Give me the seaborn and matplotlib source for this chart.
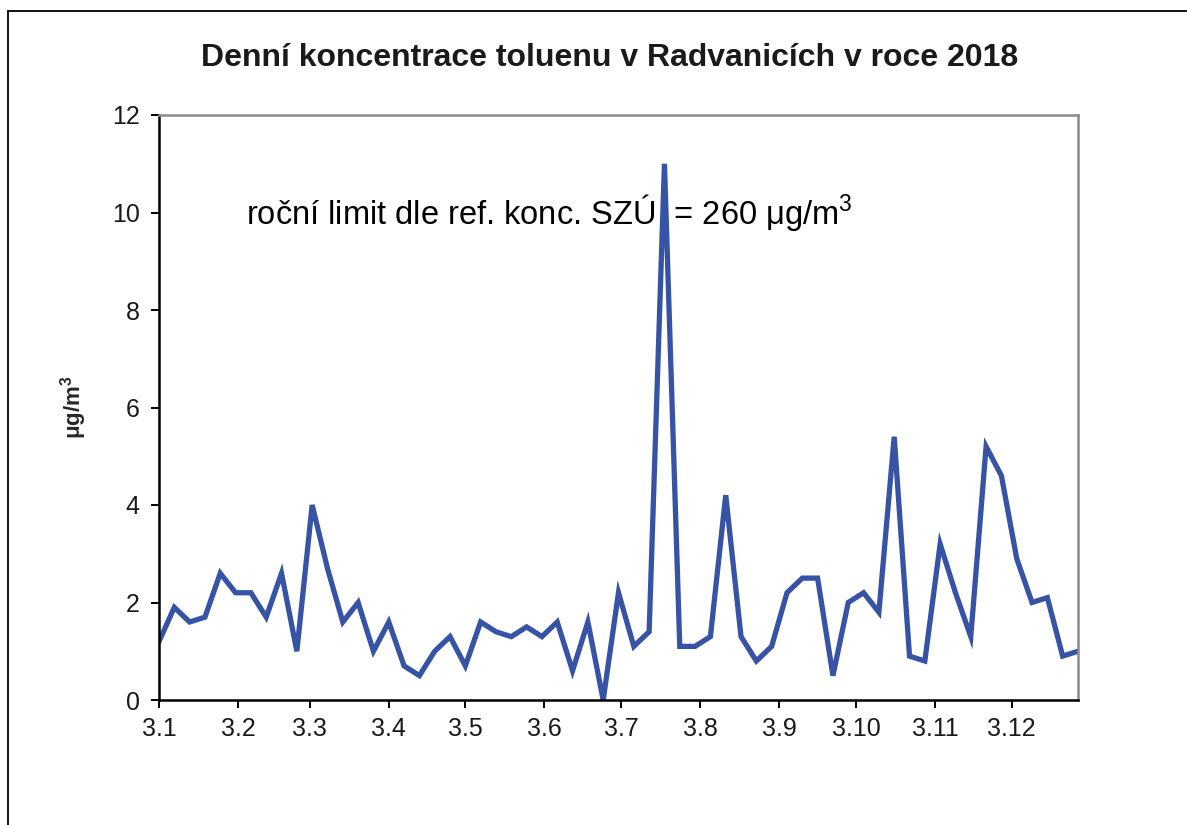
import matplotlib
matplotlib.use("Agg")
import matplotlib.pyplot as plt
from matplotlib.lines import Line2D
import seaborn as sns
import pandas as pd

# ---- data ----
sample_dates = [
    "2018-01-03", "2018-01-09", "2018-01-15", "2018-01-21", "2018-01-27",
    "2018-02-02", "2018-02-08", "2018-02-14", "2018-02-20", "2018-02-26",
    "2018-03-04", "2018-03-10", "2018-03-16", "2018-03-22", "2018-03-28",
    "2018-04-03", "2018-04-09", "2018-04-15", "2018-04-21", "2018-04-27",
    "2018-05-03", "2018-05-09", "2018-05-15", "2018-05-21", "2018-05-27",
    "2018-06-02", "2018-06-08", "2018-06-14", "2018-06-20", "2018-06-26",
    "2018-07-02", "2018-07-08", "2018-07-14", "2018-07-20", "2018-07-26",
    "2018-08-01", "2018-08-07", "2018-08-13", "2018-08-19", "2018-08-25",
    "2018-08-31", "2018-09-06", "2018-09-12", "2018-09-18", "2018-09-24",
    "2018-09-30", "2018-10-06", "2018-10-12", "2018-10-18", "2018-10-24",
    "2018-10-30", "2018-11-05", "2018-11-11", "2018-11-17", "2018-11-23",
    "2018-11-29", "2018-12-05", "2018-12-11", "2018-12-17", "2018-12-23",
    "2018-12-29",
]
toluene = [
    1.2, 1.9, 1.6, 1.7, 2.6, 2.2, 2.2, 1.7, 2.6, 1.0,
    4.0, 2.7, 1.6, 2.0, 1.0, 1.6, 0.7, 0.5, 1.0, 1.3,
    0.7, 1.6, 1.4, 1.3, 1.5, 1.3, 1.6, 0.6, 1.6, 0.0,
    2.2, 1.1, 1.4, 11.0, 1.1, 1.1, 1.3, 4.2, 1.3, 0.8,
    1.1, 2.2, 2.5, 2.5, 0.5, 2.0, 2.2, 1.8, 5.4, 0.9,
    0.8, 3.2, 2.2, 1.3, 5.2, 4.6, 2.9, 2.0, 2.1, 0.9,
    1.0,
]
tick_dates = [
    "2018-01-03", "2018-02-03", "2018-03-03", "2018-04-03", "2018-05-03",
    "2018-06-03", "2018-07-03", "2018-08-03", "2018-09-03", "2018-10-03",
    "2018-11-03", "2018-12-03",
]
tick_labels = ["3.1", "3.2", "3.3", "3.4", "3.5", "3.6", "3.7", "3.8",
               "3.9", "3.10", "3.11", "3.12"]
y_ticks = [0, 2, 4, 6, 8, 10, 12]

title = "Denní koncentrace toluenu v Radvanicích v roce 2018"
ylabel = "μg/m$^3$"
note = "roční limit dle ref. konc. SZÚ  = 260 μg/m$^3$"

# ---- plot ----
sns.set_theme(style="white")
plt.rcParams["font.family"] = ["Liberation Sans", "DejaVu Sans"]
plt.rcParams["mathtext.fontset"] = "custom"
plt.rcParams["mathtext.rm"] = "Liberation Sans"
plt.rcParams["mathtext.it"] = "Liberation Sans:italic"
plt.rcParams["mathtext.bf"] = "Liberation Sans:bold"
plt.rcParams["mathtext.default"] = "regular"

df = pd.DataFrame({"date": pd.to_datetime(sample_dates), "value": toluene})

fig = plt.figure(figsize=(11.87, 8.25), dpi=100)
ax = fig.add_axes([159 / 1187, 1 - 700 / 825, (1078 - 159) / 1187, (700 - 115) / 825])

sns.lineplot(data=df, x="date", y="value", ax=ax, color="#3753A5",
             linewidth=3.8, solid_joinstyle="miter")

ax.set_xlim(pd.Timestamp("2018-01-03"), pd.Timestamp("2018-12-29"))
ax.set_ylim(0, 12)
ax.set_yticks(y_ticks)
ax.set_yticklabels([str(v) for v in y_ticks])
ax.set_xticks(pd.to_datetime(tick_dates))
ax.set_xticklabels(tick_labels)

ax.tick_params(axis="both", which="major", direction="out", length=6, width=1.4,
               colors="black", labelsize=18, labelcolor="#1a1a1a")
ax.tick_params(axis="x", pad=6)
ax.tick_params(axis="y", pad=8)
ax.tick_params(bottom=True, left=True)

for side in ["left", "bottom"]:
    ax.spines[side].set_color("black")
    ax.spines[side].set_linewidth(1.8)
for side in ["top", "right"]:
    ax.spines[side].set_color("#8a8a8a")
    ax.spines[side].set_linewidth(1.8)

ax.set_xlabel("")
ax.set_ylabel(ylabel, fontsize=16, fontweight="bold", labelpad=16)

fig.text(610 / 1187, 1 - 58 / 825, title, ha="center", va="center",
         fontsize=23, fontweight="bold", color="#1a1a1a")

ax.text(pd.Timestamp("2018-02-06"), 10.0, note, ha="left", va="center",
        fontsize=23.5, color="black")

# outer frame lines (left and top only)
fig.add_artist(Line2D([8 / 1187, 8 / 1187], [0, 1 - 11 / 825], transform=fig.transFigure,
                      color="black", linewidth=1.3))
fig.add_artist(Line2D([8 / 1187, 1], [1 - 11 / 825, 1 - 11 / 825], transform=fig.transFigure,
                      color="black", linewidth=1.3))

fig.savefig("out.png", dpi=100)
